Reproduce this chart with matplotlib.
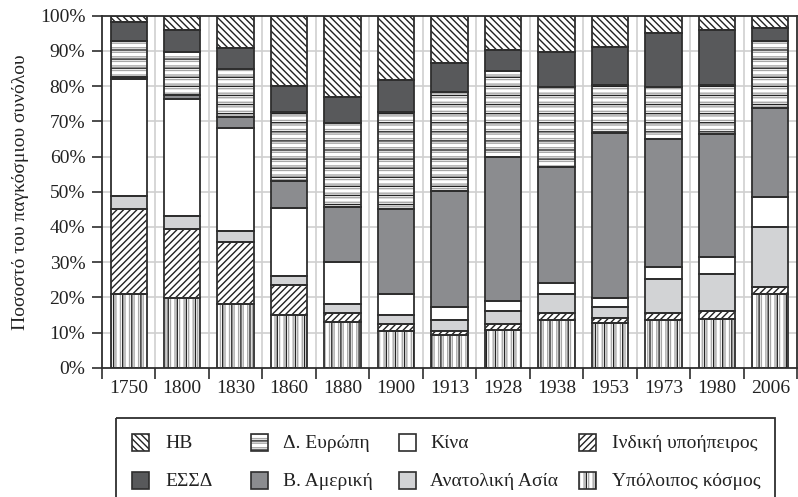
import matplotlib
matplotlib.use("Agg")
import matplotlib.pyplot as plt
from matplotlib.patches import Rectangle
from matplotlib.path import Path
from matplotlib.backend_bases import GraphicsContextBase
import numpy as np

years = ["1750", "1800", "1830", "1860", "1880", "1900", "1913", "1928", "1938", "1953", "1973", "1980", "2006"]

rest    = [20.9, 19.9, 18.1, 15.0, 12.9, 10.5, 9.3, 10.7, 13.6, 12.6, 13.6, 13.7, 20.9]
india   = [24.1, 19.6, 17.6, 8.4, 2.6, 1.9, 1.1, 1.7, 1.9, 1.4, 1.9, 2.4, 1.9]
e_asia  = [3.8, 3.6, 3.1, 2.6, 2.6, 2.6, 3.2, 3.6, 5.4, 3.3, 9.8, 10.5, 17.3]
china   = [33.2, 33.2, 29.4, 19.5, 12.0, 5.9, 3.6, 2.9, 3.1, 2.4, 3.4, 4.8, 8.5]
n_amer  = [0.5, 1.2, 2.9, 7.6, 15.6, 24.2, 32.9, 41.0, 32.9, 47.1, 36.2, 34.9, 25.1]
w_eur   = [10.4, 12.3, 13.8, 19.5, 23.7, 27.5, 28.1, 24.4, 22.8, 13.5, 14.9, 14.0, 19.1]
ussr    = [5.4, 6.1, 5.8, 7.5, 7.6, 9.0, 8.4, 5.9, 9.9, 10.9, 15.4, 15.6, 3.6]
uk      = [1.7, 4.1, 9.3, 19.9, 23.0, 18.4, 13.4, 9.8, 10.4, 8.8, 4.8, 4.1, 3.6]

ylabel = "Ποσοστό του παγκόσμιου συνόλου"
labels = {
    "uk": "ΗΒ", "w_eur": "Δ. Ευρώπη", "china": "Κίνα", "india": "Ινδική υποήπειρος",
    "ussr": "ΕΣΣΔ", "n_amer": "Β. Αμερική", "e_asia": "Ανατολική Ασία", "rest": "Υπόλοιπος κόσμος",
}

# finer control of hatch spacing per pattern
HATCH_DENSITY = {"-": 11, "--": 11, "|": 11, "||": 11, "/": 30, "\\": 30}


def _hatch_path(self, density=6.0):
    h = self.get_hatch()
    if h is None:
        return None
    return Path.hatch(h, HATCH_DENSITY.get(h, density))


GraphicsContextBase.get_hatch_path = _hatch_path

plt.rcParams['font.family'] = ['Liberation Serif', 'DejaVu Serif']
plt.rcParams['hatch.linewidth'] = 1.0

EDGE = "#2e2e2e"
DARK = "#58595b"
MID = "#8b8c8f"
LIGHT = "#d2d3d5"
HGRAY = "#a8a8a8"
FS = 14

# style: (face, under_hatch, under_color, over_hatch, over_color)
styles = {
    "rest":   ("white", "||", HGRAY, "|", "#222222"),
    "india":  ("white", None, None, "/", "#222222"),
    "e_asia": (LIGHT, None, None, None, None),
    "china":  ("white", None, None, None, None),
    "n_amer": (MID, None, None, None, None),
    "w_eur":  ("white", "--", HGRAY, "-", "#222222"),
    "ussr":   (DARK, None, None, None, None),
    "uk":     ("white", None, None, "\\", "#222222"),
}

series = [("rest", rest), ("india", india), ("e_asia", e_asia), ("china", china),
          ("n_amer", n_amer), ("w_eur", w_eur), ("ussr", ussr), ("uk", uk)]

W, H = 798, 497
fig = plt.figure(figsize=(W / 100, H / 100), dpi=100)
ax = fig.add_axes([102 / W, 1 - 367.7 / H, (797 - 102) / W, (367.7 - 15.7) / H])

x = np.arange(len(years))
bw = 0.68
bottom = np.zeros(len(years))
for key, vals in series:
    vals = np.array(vals)
    face, uh, uc, oh, oc = styles[key]
    ax.bar(x, vals, bw, bottom=bottom, color=face, linewidth=0, zorder=2)
    if uh:
        ax.bar(x, vals, bw, bottom=bottom, facecolor="none", edgecolor=uc, hatch=uh, linewidth=0, zorder=3)
    if oh:
        ax.bar(x, vals, bw, bottom=bottom, facecolor="none", edgecolor=oc, hatch=oh, linewidth=0, zorder=4)
    ax.bar(x, vals, bw, bottom=bottom, facecolor="none", edgecolor=EDGE, linewidth=1.3, zorder=5)
    bottom += vals

ax.set_xlim(-0.5, len(years) - 0.5)
ax.set_ylim(0, 100)
ax.set_yticks(np.arange(0, 101, 10))
ax.set_yticklabels([f"{v}%" for v in range(0, 101, 10)])
ax.set_xticks(x)
ax.set_xticklabels(years)
ax.tick_params(axis='x', length=0, labelsize=FS, pad=9, colors="#222222")
ax.set_xticks(np.arange(-0.5, len(years), 1), minor=True)
ax.tick_params(axis='x', which='minor', length=8, width=1.2, direction='out', color=EDGE)
ax.tick_params(axis='y', length=7, width=1.2, direction='out', color=EDGE, labelsize=FS, pad=5, labelcolor="#222222")

for v in range(10, 100, 10):
    ax.axhline(v, color="#cfcfcf", linewidth=1.2, zorder=1)
for b in np.arange(0.5, len(years) - 0.5, 1):
    ax.axvline(b, color="#cfcfcf", linewidth=1.2, zorder=1)

for s in ax.spines.values():
    s.set_color(EDGE)
    s.set_linewidth(1.3)

ax.set_ylabel(ylabel, fontsize=FS, color="#222222", labelpad=8)

# legend drawn in pixel space
lax = fig.add_axes([0, 0, 1, 1], facecolor="none")
lax.set_xlim(0, W)
lax.set_ylim(H, 0)
lax.axis("off")
lax.add_patch(Rectangle((116, 418), 775 - 116, 100, facecolor="none", edgecolor=EDGE, linewidth=1.3))

layout = [
    ("uk", 132, 165, 442), ("w_eur", 251, 283, 442), ("china", 399, 430, 442), ("india", 579, 612, 442),
    ("ussr", 132, 165, 480), ("n_amer", 251, 283, 480), ("e_asia", 399, 430, 480), ("rest", 579, 612, 480),
]
ps = 17
for key, px, tx, cy in layout:
    face, uh, uc, oh, oc = styles[key]
    lax.add_patch(Rectangle((px, cy - ps / 2), ps, ps, facecolor=face, linewidth=0))
    if uh:
        lax.add_patch(Rectangle((px, cy - ps / 2), ps, ps, facecolor="none", edgecolor=uc, hatch=uh, linewidth=0))
    if oh:
        lax.add_patch(Rectangle((px, cy - ps / 2), ps, ps, facecolor="none", edgecolor=oc, hatch=oh, linewidth=0))
    lax.add_patch(Rectangle((px, cy - ps / 2), ps, ps, facecolor="none", edgecolor=EDGE, linewidth=1.2))
    lax.text(tx, cy, labels[key], fontsize=FS, va="center_baseline", ha="left", color="#222222")

fig.savefig("out.png", dpi=100)
